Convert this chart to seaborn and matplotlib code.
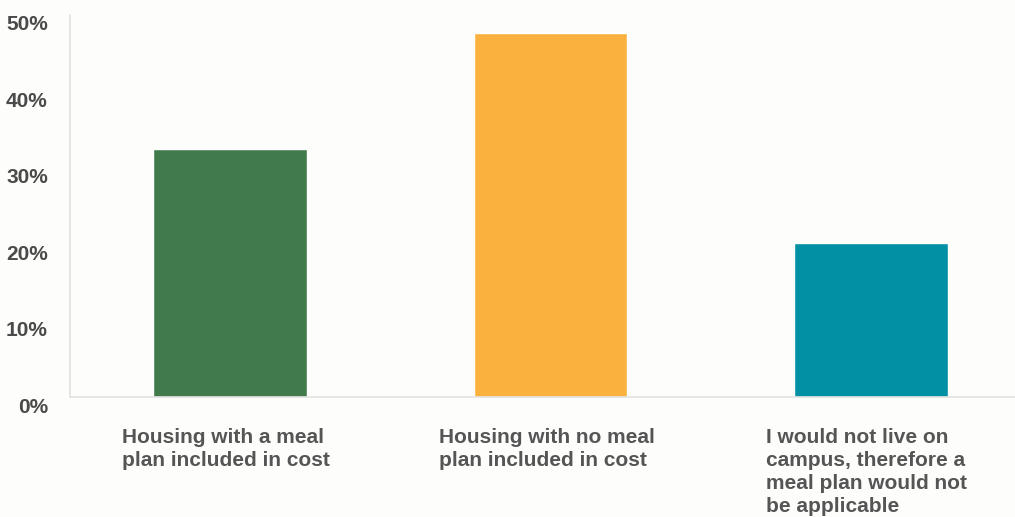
import matplotlib
matplotlib.use("Agg")
import matplotlib.pyplot as plt
import matplotlib.transforms as mtransforms
import pandas as pd
import seaborn as sns

categories = [
    "Housing with a meal\nplan included in cost",
    "Housing with no meal\nplan included in cost",
    "I would not live on\ncampus, therefore a\nmeal plan would not\nbe applicable",
]
shares = [32.5, 47.6, 20.1]
colors = ["#417a4b", "#fab13e", "#0290a4"]
yticks = [0, 10, 20, 30, 40, 50]
ytick_labels = ["0%", "10%", "20%", "30%", "40%", "50%"]

df = pd.DataFrame({"answer": categories, "share": shares})

sns.set_style("white")
plt.rcParams["font.family"] = ["Liberation Sans", "DejaVu Sans"]

fig = plt.figure(figsize=(10.15, 5.17), dpi=100, facecolor="#fdfdfb")
ax = fig.add_axes([0.069, 0.232, 0.931, 0.739])
ax.set_facecolor("#fdfdfb")

sns.barplot(data=df, x="answer", y="share", hue="answer", palette=colors,
            width=0.48, saturation=1, legend=False, ax=ax)

ax.set_xlim(-0.5, 2.45)
ax.set_ylim(0, 50)
ax.set_yticks(yticks)
ax.set_yticklabels(ytick_labels)
ax.set_xlabel("")
ax.set_ylabel("")

ax.tick_params(axis="y", length=0, pad=16, labelsize=15, labelcolor="#4a4a4a")
ax.tick_params(axis="x", length=0, pad=22, labelsize=15, labelcolor="#555555")
for lab in ax.get_yticklabels():
    lab.set_fontweight("bold")
    lab.set_transform(lab.get_transform() + mtransforms.ScaledTranslation(0, -0.08, fig.dpi_scale_trans))
for lab in ax.get_xticklabels():
    lab.set_fontweight("bold")
    lab.set_multialignment("left")
    lab.set_linespacing(1.27)
    lab.set_verticalalignment("top")
    lab.set_transform(lab.get_transform() + mtransforms.ScaledTranslation(-0.04, 0, fig.dpi_scale_trans))

for side in ["top", "right"]:
    ax.spines[side].set_visible(False)
for side in ["left", "bottom"]:
    ax.spines[side].set_color("#e2e2e2")
    ax.spines[side].set_linewidth(1.2)

fig.savefig("out.png", dpi=100, facecolor=fig.get_facecolor())
